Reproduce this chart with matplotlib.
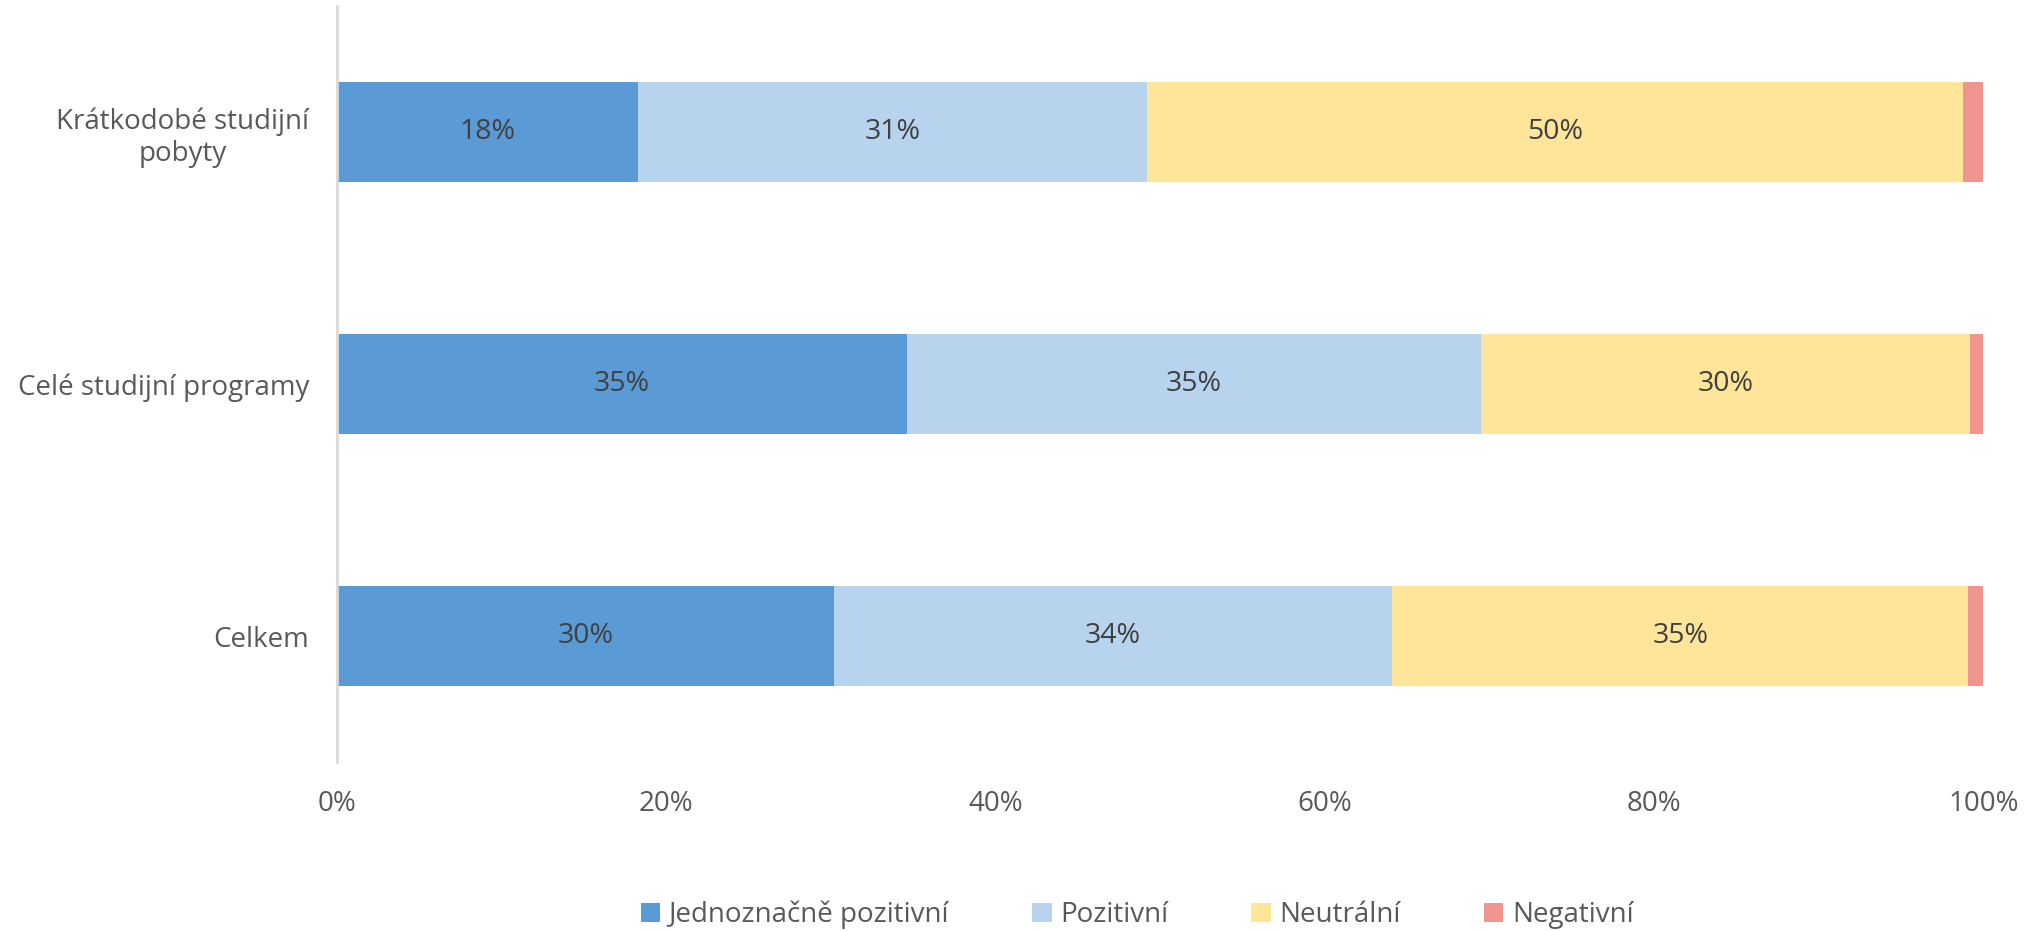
import matplotlib
matplotlib.use("Agg")
import matplotlib.pyplot as plt
import numpy as np

plt.rcParams['font.family'] = ['Open Sans', 'DejaVu Sans']

categories = ["Celkem", "Celé studijní programy", "Krátkodobé studijní\npobyty"]
series = ["Jednoznačně pozitivní", "Pozitivní", "Neutrální", "Negativní"]
jedn_pozitivni = [30.2, 34.6, 18.3]
pozitivni = [33.9, 34.9, 30.9]
neutralni = [35.0, 29.7, 49.6]
negativni = [0.9, 0.8, 1.2]
labels_jedn = ["30%", "35%", "18%"]
labels_poz = ["34%", "35%", "31%"]
labels_neu = ["35%", "30%", "50%"]

colors = ["#5B9BD5", "#B8D3EE", "#FFE599", "#F19590"]
values = [jedn_pozitivni, pozitivni, neutralni, negativni]
bar_labels = [labels_jedn, labels_poz, labels_neu, None]

fig = plt.figure(figsize=(20.32, 9.31), dpi=100)
ax = fig.add_axes([0.1658, 0.1815, 0.8102, 0.812])

y = np.arange(len(categories))
left = np.zeros(len(categories))
for name, vals, col, labs in zip(series, values, colors, bar_labels):
    vals = np.array(vals)
    bars = ax.barh(y, vals, left=left, height=0.4, color=col, label=name)
    if labs is not None:
        ax.bar_label(bars, labels=labs, label_type='center', fontsize=20.5, color='#404040')
    left += vals

ax.set_xlim(0, 100)
ax.set_ylim(-0.5, 2.5)
ax.set_xticks([0, 20, 40, 60, 80, 100])
ax.set_xticklabels(["0%", "20%", "40%", "60%", "80%", "100%"])
ax.set_yticks(y)
ax.set_yticklabels(categories)
ax.tick_params(axis='both', length=0, labelsize=20, labelcolor='#595959')
ax.tick_params(axis='x', pad=20)
ax.tick_params(axis='y', pad=20)
for lab in ax.get_yticklabels():
    lab.set_multialignment('center')
for s in ['top', 'right', 'bottom']:
    ax.spines[s].set_visible(False)
ax.spines['left'].set_color('#D9D9D9')
ax.spines['left'].set_linewidth(2)

ax.legend(loc='center', bbox_to_anchor=(0.486, -0.2026), ncol=4, frameon=False,
          fontsize=20, labelcolor='#595959', handlelength=0.7, handleheight=0.7,
          handletextpad=0.3, columnspacing=3.0)

fig.savefig("out.png", dpi=100)
